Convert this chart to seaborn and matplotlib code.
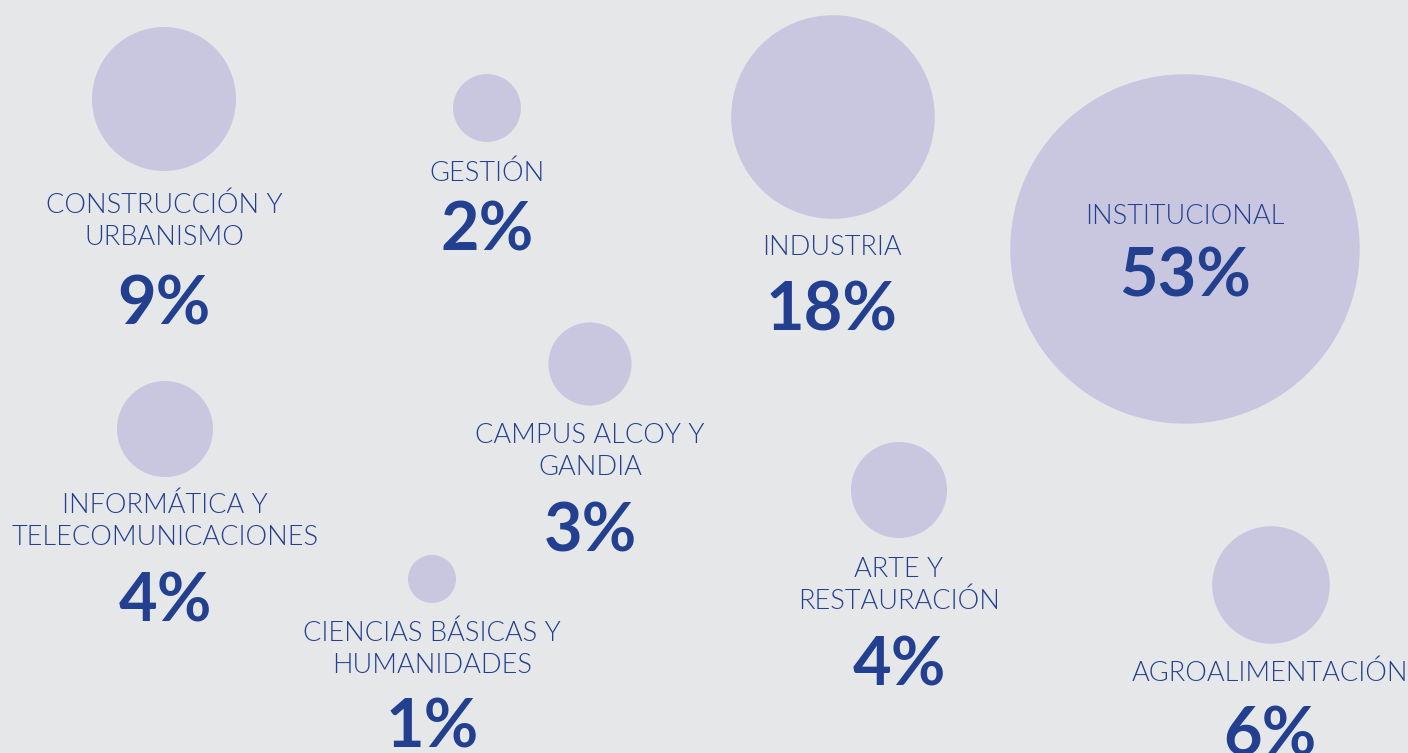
import matplotlib
matplotlib.use("Agg")
import matplotlib.pyplot as plt
import seaborn as sns
import pandas as pd

# ── Data ──────────────────────────────────────────────────────
categories = [
    "CONSTRUCCIÓN Y\nURBANISMO", "GESTIÓN", "INDUSTRIA", "INSTITUCIONAL",
    "INFORMÁTICA Y\nTELECOMUNICACIONES", "CAMPUS ALCOY Y\nGANDIA",
    "CIENCIAS BÁSICAS Y\nHUMANIDADES", "ARTE Y\nRESTAURACIÓN",
    "AGROALIMENTACIÓN",
]
shares = [9, 2, 18, 53, 4, 3, 1, 4, 6]

# ── Layout (pixel canvas) ─────────────────────────────────────
bubble_x = [164, 487, 833, 1185, 165, 590, 432, 899, 1271]
bubble_y = [99, 108, 117, 249, 429, 364, 579, 490, 585]
label_x = [164, 487, 832, 1185, 165, 590, 432, 899, 1270]
label_base = [213, 181, 255, 224, 513, 443, 641, 577, 681]
pct_base = [324, 250, 330, 296, 621, 552, 748, 686, 756]

W, H = 1408, 753
BG = "#e6e7e9"
BUBBLE = "#c9c7e0"
NAVY = "#233f8f"

df = pd.DataFrame({"cat": categories, "pct": shares, "x": bubble_x, "y": bubble_y})

sns.set_theme(style="white")
plt.rcParams["font.family"] = ["Lato", "DejaVu Sans"]

fig = plt.figure(figsize=(W / 100, H / 100), dpi=100, facecolor=BG)
ax = fig.add_axes([0, 0, 1, 1])
ax.set_facecolor(BG)

# bubble area proportional to share (24 px radius per sqrt(%))
k = (2 * 24 * 0.72) ** 2
sns.scatterplot(data=df, x="x", y="y", size="pct", sizes=(k * 1, k * 53),
                size_norm=(1, 53), color=BUBBLE, linewidth=0, alpha=1,
                legend=False, ax=ax, zorder=1)

ax.set_xlim(0, W)
ax.set_ylim(H, 0)
ax.axis("off")

for cat, p, lx, lb, pb in zip(categories, shares, label_x, label_base, pct_base):
    for i, line in enumerate(cat.split("\n")):
        ax.text(lx, lb + i * 32, line, ha="center", va="baseline",
                fontsize=19.5, fontweight=300, color=NAVY, zorder=3)
    ax.text(lx, pb, f"{p}%", ha="center", va="baseline",
            fontsize=48, fontweight="bold", color=NAVY, zorder=3)

plt.savefig("out.png", dpi=100, facecolor=BG)
plt.close()
